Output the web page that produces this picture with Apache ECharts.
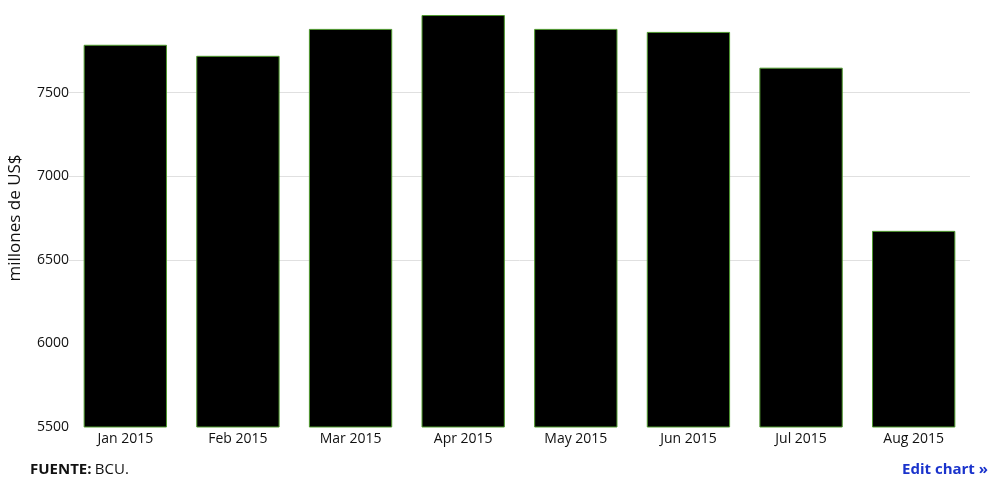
<!DOCTYPE html>
<html><head><meta charset="utf-8">
<script src="https://cdn.jsdelivr.net/npm/echarts@6/dist/echarts.min.js"></script>
<style>html,body{margin:0;padding:0;background:#fff}#c{width:989px;height:477px}</style>
</head><body><div id="c"></div>
<script>
var categories = ['Jan 2015','Feb 2015','Mar 2015','Apr 2015','May 2015','Jun 2015','Jul 2015','Aug 2015'];
var values = [7786, 7720, 7881, 7964, 7881, 7863, 7649, 6673];
var yTicks = [5500, 6000, 6500, 7000, 7500];
var font = '"Open Sans", "Noto Sans", sans-serif';
var chart = echarts.init(document.getElementById('c'));
var none = 'rgba(0,0,0,0)', gl = '#e0e0e0';
chart.setOption({
  animation: false,
  grid: {left: 69, right: 19, top: 9, bottom: 50, containLabel: false, outerBoundsMode: 'none'},
  xAxis: {
    type: 'category', data: categories,
    axisLine: {show: false}, axisTick: {show: false},
    axisLabel: {color: '#111', fontFamily: font, fontSize: 14, margin: 5}
  },
  yAxis: {
    type: 'value', min: 5500, max: 8000, interval: 500,
    name: 'millones de US$', nameLocation: 'middle', nameGap: 45, nameRotate: 90,
    nameTextStyle: {color: '#111', fontFamily: font, fontSize: 17},
    axisLine: {show: false}, axisTick: {show: false},
    splitLine: {show: true, lineStyle: {width: 1, color: [none, none, gl, gl, gl, none]}},
    axisLabel: {color: '#111', fontFamily: font, fontSize: 14, margin: 0,
      formatter: function(v){ return yTicks.indexOf(v) >= 0 ? String(v) : ''; }}
  },
  series: [
    {type: 'bar', data: values, barCategoryGap: '26%',
     itemStyle: {color: '#000', borderColor: '#4f9a2e', borderWidth: 1}}
  ],
  graphic: [
    {type: 'text', left: 30, top: 462, style: {rich: {b: {fontWeight: 'bold', fontFamily: font, fontSize: 15, fill: '#111'}, n: {fontFamily: font, fontSize: 15, fill: '#111'}}, text: '{b|FUENTE:} {n|BCU.}'}},
    {type: 'text', right: 1, top: 462, style: {text: 'Edit chart »', fontFamily: font, fontSize: 15, fontWeight: 'bold', fill: '#1a33cc'}}
  ]
});
</script></body></html>
